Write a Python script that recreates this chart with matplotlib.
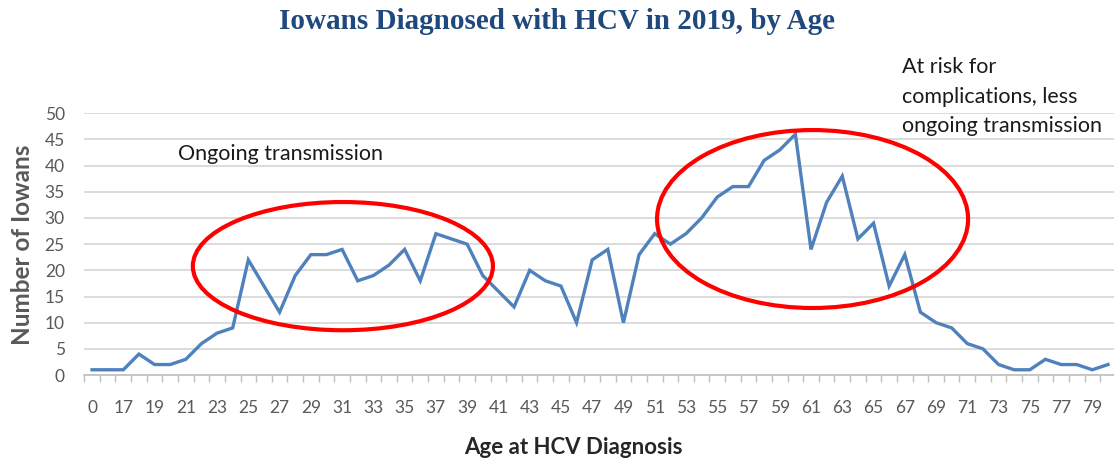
import numpy as np
import matplotlib
matplotlib.use("Agg")
from matplotlib import pyplot as plt
from matplotlib.patches import Ellipse

# ages shown on the category axis (0 = unknown/other, then 16..80)
ages = [0] + list(range(16, 81))
counts = [1, 1, 1, 4, 2, 2, 3, 6, 8, 9,
          22, 17, 12, 19, 23, 23, 24, 18, 19, 21,
          24, 18, 27, 26, 25, 19, 16, 13, 20, 18,
          17, 10, 22, 24, 10, 23, 27, 25, 27, 30,
          34, 36, 36, 41, 43, 46, 24, 33, 38, 26,
          29, 17, 23, 12, 10, 9, 6, 5, 2, 1,
          1, 3, 2, 2, 1, 2]

title = "Iowans Diagnosed with HCV in 2019, by Age"
note_left = "Ongoing transmission"
note_right = "At risk for\ncomplications, less\nongoing transmission"

GRAY = "#595959"
FONT = "Lato"

fig = plt.figure(figsize=(11.14, 4.58), dpi=100)
ax = fig.add_axes([0.0756, 0.1812, 0.926, 0.5714])

x = np.arange(len(ages))
ax.plot(x, counts, color="#4F81BD", lw=2.4, solid_joinstyle="miter", zorder=3)

ax.set_xlim(-0.5, len(ages) - 0.5)
ax.set_ylim(0, 50)
ax.set_yticks(np.arange(0, 51, 5))
ax.grid(axis="y", color="#D9D9D9", lw=1.3, zorder=0)
ax.set_axisbelow(True)

ax.set_xticks(x[::2])
ax.set_xticklabels([str(a) for a in ages[::2]])
ax.set_xticks(np.arange(-0.5, len(ages), 1), minor=True)
ax.tick_params(axis="x", which="major", length=0, pad=18, labelsize=12.5, labelcolor=GRAY)
ax.tick_params(axis="x", which="minor", length=5, color="#BFBFBF", width=1)
ax.tick_params(axis="y", length=0, pad=14, labelsize=12.5, labelcolor=GRAY)
for lab in ax.get_xticklabels() + ax.get_yticklabels():
    lab.set_fontfamily(FONT)

for s in ["top", "right", "left"]:
    ax.spines[s].set_visible(False)
ax.spines["bottom"].set_color("#BFBFBF")
ax.spines["bottom"].set_linewidth(1.2)

# red ellipses around the two groups
ax.add_patch(Ellipse((16.05, 20.8), 19.2, 24.5, fill=False, ec="#FF0000", lw=3, zorder=4, clip_on=False))
ax.add_patch(Ellipse((46.1, 29.8), 19.9, 34.0, fill=False, ec="#FF0000", lw=3, zorder=4, clip_on=False))

ax.text(5.5, 42.3, note_left, fontsize=15.5, family=FONT, color="#1a1a1a", va="center", ha="left")
fig.text(0.8095, 0.875, note_right, fontsize=15.5, family=FONT, color="#1a1a1a",
         va="top", ha="left", linespacing=1.6)

fig.text(0.5, 0.952, title, fontsize=21, family="Liberation Serif", weight="bold",
         color="#1F497D", ha="center", va="center")
fig.text(0.02, 0.465, "Number of Iowans", rotation=90, fontsize=17.5, family=FONT,
         weight="bold", color=GRAY, ha="center", va="center")
fig.text(0.5145, 0.024, "Age at HCV Diagnosis", fontsize=16, family=FONT,
         weight="bold", color="#262626", ha="center", va="center")

fig.savefig("out.png", dpi=100)
